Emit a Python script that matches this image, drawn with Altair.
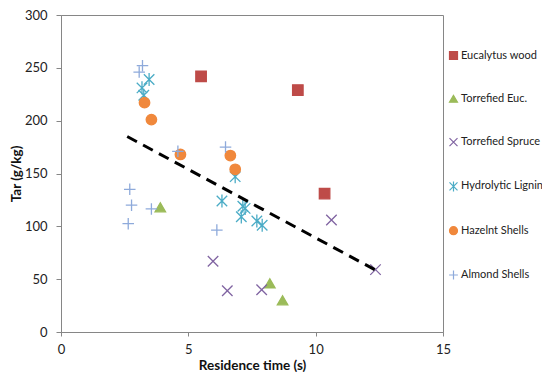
import altair as alt
import pandas as pd

names = ["Eucalytus wood", "Torrefied Euc.", "Torrefied Spruce",
         "Hydrolytic Lignin", "Hazelnt Shells", "Almond Shells"]

euc_x = [5.5, 9.3, 10.35]
euc_y = [242, 229, 131]
teuc_x = [3.9, 8.2, 8.7]
teuc_y = [118, 46, 30]
tspr_x = [5.97, 6.53, 7.88, 10.62, 12.35]
tspr_y = [67, 39, 40, 106, 59]
lig_x = [3.46, 3.18, 3.25, 6.84, 6.32, 7.14, 7.23, 7.08, 7.69, 7.9]
lig_y = [239, 231, 224, 147, 124, 119, 117, 109, 105, 101]
haz_x = [3.28, 3.55, 4.69, 6.65, 6.84]
haz_y = [217, 201, 168, 167, 154]
alm_x = [3.2, 3.07, 4.59, 6.46, 2.7, 2.77, 3.55, 2.64, 6.12]
alm_y = [252, 246, 171, 175, 135, 120, 116.5, 102.5, 96.5]

trend_x = [2.6, 12.4]
trend_y = [185, 58]

colors = ["#BE4B48", "#9BBB59", "#8064A2", "#4BACC6", "#F0883C", "#8EAADB"]
shapes = ["square", "triangle-up", "M-1,-1L1,1M-1,1L1,-1",
          "M-1,-1L1,1M-1,1L1,-1M0,-1.25L0,1.25", "circle", "M-1.1,0L1.1,0M0,-1.1L0,1.1"]

rows = []
for name, xs, ys in zip(names, [euc_x, teuc_x, tspr_x, lig_x, haz_x, alm_x],
                        [euc_y, teuc_y, tspr_y, lig_y, haz_y, alm_y]):
    for x, y in zip(xs, ys):
        rows.append({"series": name, "time": x, "tar": y})
df = pd.DataFrame(rows)
trend = pd.DataFrame({"time": trend_x, "tar": trend_y})

FONT = "Lato"
leg = alt.Legend(title=None, orient="none", legendX=387, legendY=35, padding=0,
                 rowPadding=30.3, symbolSize=64, symbolStrokeWidth=1.2,
                 labelFont=FONT, labelFontSize=11, labelColor="#222",
                 labelOffset=2, symbolOpacity=1, labelLimit=200)

xax = alt.Axis(values=[0, 5, 10, 15], title="Residence time (s)", grid=False,
               domainColor="#868686", tickColor="#868686", tickSize=4,
               labelFont=FONT, labelFontSize=13, labelColor="#222", labelPadding=7,
               labelFlush=False,
               titleFont=FONT, titleFontSize=13.5, titleFontWeight="bold",
               titleColor="#111", titlePadding=2)
yax = alt.Axis(values=[0, 50, 100, 150, 200, 250, 300], title="Tar (g/kg)", grid=False,
               domainColor="#868686", tickColor="#868686", tickSize=5,
               labelFont=FONT, labelFontSize=13, labelColor="#222", labelPadding=9,
               labelFlush=False,
               titleFont=FONT, titleFontSize=13.5, titleFontWeight="bold",
               titleColor="#111", titlePadding=1)

xs = alt.Scale(domain=[0, 15], nice=False)
ys = alt.Scale(domain=[0, 300], nice=False)

points = alt.Chart(df).mark_point(size=110, strokeWidth=1.3, opacity=1).encode(
    x=alt.X("time:Q", scale=xs, axis=xax),
    y=alt.Y("tar:Q", scale=ys, axis=yax),
    shape=alt.Shape("series:N", scale=alt.Scale(domain=names, range=shapes), legend=leg),
    fill=alt.Fill("series:N", scale=alt.Scale(domain=names, range=colors), legend=leg),
    stroke=alt.Stroke("series:N", scale=alt.Scale(domain=names, range=colors), legend=leg),
)

line = alt.Chart(trend).mark_line(color="black", strokeWidth=3, strokeDash=[11, 7]).encode(
    x=alt.X("time:Q", scale=xs),
    y=alt.Y("tar:Q", scale=ys),
)

chart = alt.layer(points, line).properties(
    width=382, height=317,
    autosize=alt.AutoSizeParams(type="none"),
    padding={"left": 53, "top": 7, "right": 99, "bottom": 40},
).configure_view(stroke="#868686", strokeWidth=1)

chart.save("out.html", embed_options={"renderer": "svg", "actions": False})
